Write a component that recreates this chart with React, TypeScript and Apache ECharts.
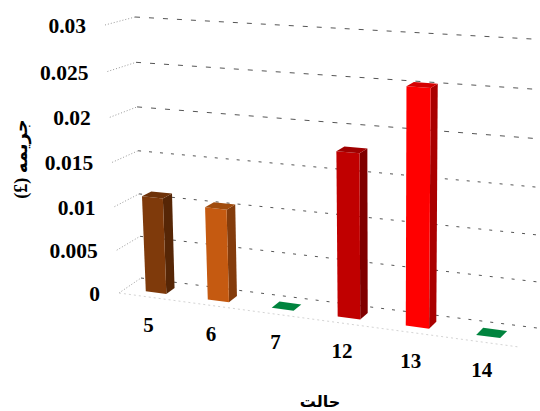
import React, { useEffect, useRef } from "react";
import * as echarts from "echarts";

const categories = ["5", "6", "7", "12", "13", "14"];
const values = [0.011, 0.0105, 0, 0.018, 0.0253, 0];
const yTicks = [0, 0.005, 0.01, 0.015, 0.02, 0.025, 0.03];
const yTickLabels = ["0", "0.005", "0.01", "0.015", "0.02", "0.025", "0.03"];
const xTitle = "حالت";
const yTitle = "(£) جریمه";
const frontColors = ["#7f3a0b", "#c55a11", "#00843e", "#c00000", "#ff0000", "#00843e"];
const sideColors = ["#562606", "#843c0c", "#00843e", "#800000", "#aa0000", "#00843e"];
const topColors = ["#6e3209", "#a04c0e", "#00843e", "#a00000", "#d50000", "#00843e"];

const W = 540;
const H = 411;
const FONT = '"Liberation Serif", "Times New Roman", serif';

type Pt = [number, number];
const FL0: Pt = [119, 293];
const FR0: Pt = [519, 347];
const BL0: Pt = [141, 278];
const BR0: Pt = [537, 328];
const FL1: Pt = [105, 25];
const FR1: Pt = [526, 50];
const BL1: Pt = [135, 17];
const BR1: Pt = [541, 39.5];

const warpT = (t: number) => t / (1.1 - 0.1 * t);
const warpH = (h: number) => h + 0.05 * h * (h - 1);
const mix = (a: Pt, b: Pt, f: number): Pt => [a[0] + (b[0] - a[0]) * f, a[1] + (b[1] - a[1]) * f];
// t: along the categories, z: 0 front / 1 back, h: 0 floor / 1 ceiling
function project(t: number, z: number, h: number): Pt {
  const u = warpT(t);
  const v = warpH(h);
  const floor = mix(mix(FL0, FR0, u), mix(BL0, BR0, u), z);
  const ceil = mix(mix(FL1, FR1, u), mix(BL1, BR1, u), z);
  return mix(floor, ceil, v);
}
const BAR_W = 0.335;
const Z0 = 0.3;
const Z1 = 0.68;

function renderGrid(_: any, api: any) {
  const idx = _.dataIndex;
  const c = api.coord([0, api.value(1)]);
  const h = 1 - c[1] / H;
  const children: any[] = [
    {
      type: "line",
      shape: { x1: project(0, 1, h)[0], y1: project(0, 1, h)[1], x2: project(1, 1, h)[0], y2: project(1, 1, h)[1] },
      style: { stroke: "#555", lineWidth: 1, lineDash: idx > 3 ? [5, 9] : [3, 8], fill: null },
    },
    {
      type: "line",
      shape: { x1: project(0, 0, h)[0], y1: project(0, 0, h)[1], x2: project(0, 1, h)[0], y2: project(0, 1, h)[1] },
      style: { stroke: "#999", lineWidth: 1, lineDash: [1, 2], fill: null },
    },
  ];
  if (idx === 0) {
    children.push({
      type: "line",
      shape: { x1: project(0, 0, 0)[0], y1: project(0, 0, 0)[1], x2: project(1, 0, 0)[0], y2: project(1, 0, 0)[1] },
      style: { stroke: "#d4d4d4", lineWidth: 1, lineDash: [2, 3], fill: null },
    });
  }
  const p = project(0, 0, h);
  children.push({
    type: "text",
    style: {
      text: yTickLabels[idx],
      x: p[0] - 19,
      y: p[1] + 1,
      align: "right",
      verticalAlign: "middle",
      font: `bold 21.5px ${FONT}`,
      fill: "#000",
    },
  });
  return { type: "group", children };
}

function renderBar(params: any, api: any) {
  const i = params.dataIndex;
  const c = api.coord([i, api.value(1)]);
  const bw = (api.size([1, 0])[0] / W) * BAR_W;
  const t = c[0] / W;
  const h = 1 - c[1] / H;
  const a = t - bw / 2;
  const b = t + bw / 2;
  const poly = (pts: Pt[], fill: string) => ({
    type: "polygon",
    shape: { points: pts },
    style: { fill, stroke: null },
  });
  const children: any[] = [];
  if (h > 0) {
    children.push(
      poly([project(b, Z0, 0), project(b, Z1, 0), project(b, Z1, h), project(b, Z0, h)], sideColors[i]),
      poly([project(a, Z0, 0), project(b, Z0, 0), project(b, Z0, h), project(a, Z0, h)], frontColors[i])
    );
  }
  children.push(poly([project(a, Z0, h), project(b, Z0, h), project(b, Z1, h), project(a, Z1, h)], topColors[i]));
  return { type: "group", children };
}

function renderCategoryLabel(params: any, api: any) {
  const c = api.coord([params.dataIndex, 0]);
  const p = project(c[0] / W, 0, 0);
  return {
    type: "text",
    style: {
      text: categories[params.dataIndex],
      x: p[0] - 1,
      y: p[1] + 28,
      align: "center",
      verticalAlign: "middle",
      font: `bold 21px ${FONT}`,
      fill: "#000",
    },
  };
}

export default function App() {
  const ref = useRef<HTMLDivElement>(null);
  useEffect(() => {
    const chart = echarts.init(ref.current!, undefined, { renderer: "svg" });
    chart.setOption({
      animation: false,
      backgroundColor: "#fff",
      grid: { left: 0, right: 0, top: 0, bottom: 0 },
      xAxis: { type: "category", data: categories, show: false },
      yAxis: { type: "value", min: 0, max: 0.03, interval: 0.005, show: false },
      series: [
        { type: "custom", silent: true, clip: false, renderItem: renderGrid, data: yTicks.map((v, i) => [i, v]) },
        { type: "custom", silent: true, clip: false, renderItem: renderBar, data: values.map((v, i) => [i, v]) },
        { type: "custom", silent: true, clip: false, renderItem: renderCategoryLabel, data: values.map((v, i) => [i, v]) },
      ],
      graphic: [
        {
          type: "text",
          x: 320,
          y: 401,
          style: { text: xTitle, align: "center", verticalAlign: "middle", font: `bold 16px ${FONT}, "DejaVu Sans"`, fill: "#000" },
        },
        {
          type: "text",
          x: 21,
          y: 159,
          rotation: Math.PI / 2,
          style: { text: yTitle, align: "center", verticalAlign: "middle", font: `bold 18px ${FONT}, "DejaVu Sans"`, fill: "#000" },
        },
      ],
    });
    return () => chart.dispose();
  }, []);
  return <div ref={ref} style={{ position: "fixed", left: 0, top: 0, width: W, height: H }} />;
}
